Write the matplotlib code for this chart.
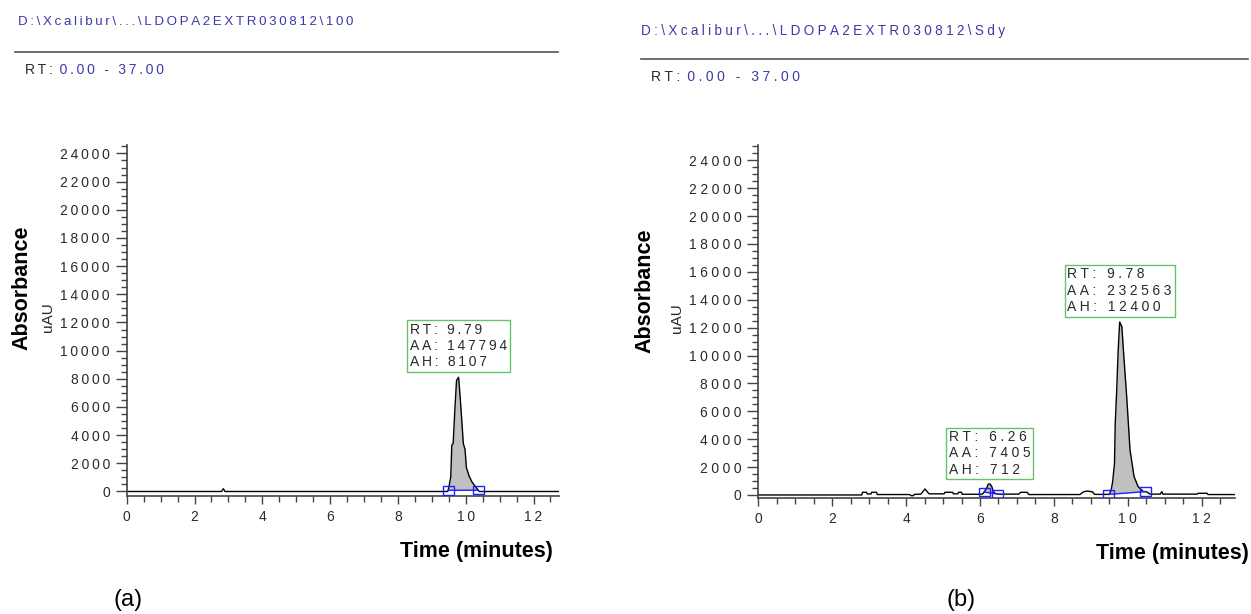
import matplotlib.pyplot as plt
import numpy as np
from matplotlib.lines import Line2D
from matplotlib.patches import Rectangle

plt.rcParams['font.family'] = ['Liberation Sans', 'DejaVu Sans']

W, H = 1251, 614

# chromatogram (a): sample 100
a_time = [0, 2.80, 2.85, 2.90, 9.47, 9.50, 9.56, 9.59, 9.63, 9.68, 9.73, 9.79,
          9.83, 9.88, 9.93, 9.98, 10.02, 10.10, 10.18, 10.30, 10.40, 12.76]
a_abs = [0, 0, 200, 0, 0, 250, 1060, 3300, 3400, 5800, 7900, 8107,
         6900, 5200, 3400, 3000, 1700, 1100, 700, 300, 0, 0]

# chromatogram (b): standard
b_time = [0, 2.80, 2.82, 2.93, 2.95, 3.05, 3.07, 3.20, 3.22, 4.10, 4.13, 4.20,
          4.22, 4.40, 4.51, 4.62, 5.03, 5.05, 5.26, 5.28, 5.40, 5.42, 5.50, 5.52,
          6.05, 6.09, 6.18, 6.22, 6.27, 6.32, 6.36, 6.41, 6.48, 7.05, 7.10, 7.28,
          7.32, 8.70, 8.80, 8.90, 9.05, 9.10, 9.50, 9.55, 9.59, 9.64, 9.66, 9.70,
          9.74, 9.78, 9.84, 9.88, 9.97, 10.06, 10.17, 10.28, 10.42, 10.50, 10.60,
          10.88, 10.92, 10.95, 11.88, 11.90, 12.15, 12.17, 12.90]
b_abs = [0, 0, 190, 190, 70, 70, 190, 190, 30, 30, -50, -50,
         40, 60, 430, 80, 80, 190, 190, 80, 80, 190, 190, 50,
         50, 130, 480, 765, 790, 600, 240, 120, 60, 60, 190, 190,
         30, 30, 220, 280, 220, 40, 40, 360, 950, 2270, 5140, 7530,
         10400, 12400, 12070, 10400, 7050, 3230, 1310, 600, 240, 240, 60,
         60, 240, 60, 60, 120, 120, 30, 30]

# integrated peaks
a_rt = [9.79]
a_aa = [147794]
a_ah = [8107]
a_start = [9.48]
a_end = [10.37]

b_rt = [6.26, 9.78]
b_aa = [7405, 232563]
b_ah = [712, 12400]
b_start = [6.11, 9.49]
b_end = [6.47, 10.47]

y_ticks = [0, 2000, 4000, 6000, 8000, 10000, 12000, 14000, 16000, 18000,
           20000, 22000, 24000]
x_ticks = [0, 2, 4, 6, 8, 10, 12]

BLUE = '#3a3aa8'
DARK = '#2a2a2a'


def spaced(s, gap):
    return gap.join(s)


def fx(x):
    return x / W


def fy(y):
    return 1 - y / H


def draw_panel(ax, time, absorb, rts, aas, ahs, starts, ends, xmax, ylim, gap):
    time = np.array(time, dtype=float)
    absorb = np.array(absorb, dtype=float)

    for rt, aa, ah, t0, t1 in zip(rts, aas, ahs, starts, ends):
        y0 = np.interp(t0, time, absorb)
        y1 = np.interp(t1, time, absorb)
        m = (time >= t0) & (time <= t1)
        tt = np.concatenate([[t0], time[m], [t1]])
        yy = np.concatenate([[y0], absorb[m], [y1]])
        base = np.interp(tt, [t0, t1], [y0, y1])
        ax.fill_between(tt, base, yy, color='#c0c0c0', lw=0, zorder=1)
        ax.plot([t0, t1], [y0, y1], color='#2020ff', lw=1, zorder=3)

        # boundary boxes, fixed size in pixels
        xpp = (ax.get_xlim()[1] - ax.get_xlim()[0]) / ax.bbox.width
        ypp = (ax.get_ylim()[1] - ax.get_ylim()[0]) / ax.bbox.height
        bw, bh = 11 * xpp, 8.5 * ypp
        for t, y in ((t0, y0), (t1, y1)):
            ax.add_patch(Rectangle((t - bw / 2, y - bh / 2), bw, bh, fill=False,
                                   ec='#2020ff', lw=1, zorder=4))

        label = '\n'.join([spaced('RT: %.2f' % rt, gap),
                           spaced('AA: %d' % aa, gap),
                           spaced('AH: %d' % ah, gap)])
        ax.annotate(label, xy=(rt, ah), xytext=(0, 6), textcoords='offset points',
                    ha='center', va='bottom', multialignment='left',
                    fontsize=10, color=DARK, linespacing=1.2, zorder=5,
                    bbox=dict(boxstyle='square,pad=0.2', fc='white',
                              ec='#66c266', lw=1))

    ax.plot(time, absorb, color='black', lw=1, zorder=2)

    ax.set_xticks(x_ticks)
    ax.set_xticklabels([spaced(str(v), gap) for v in x_ticks])
    ax.set_xticks(np.arange(0, xmax, 0.5), minor=True)
    ax.set_yticks(y_ticks)
    ax.set_yticklabels([spaced(str(v), gap) for v in y_ticks])
    ax.set_yticks(np.arange(0, ylim[1], 500), minor=True)

    ax.tick_params(axis='both', which='both', direction='out', color='#444',
                   width=1, labelsize=10, labelcolor=DARK, pad=4)
    ax.tick_params(axis='y', which='major', length=8)
    ax.tick_params(axis='y', which='minor', length=4)
    ax.tick_params(axis='x', which='major', length=6)
    ax.tick_params(axis='x', which='minor', length=4.5)

    for side in ('top', 'right'):
        ax.spines[side].set_visible(False)
    for side in ('left', 'bottom'):
        ax.spines[side].set_color('#444')
        ax.spines[side].set_linewidth(1.2)


fig = plt.figure(figsize=(W / 100, H / 100), dpi=100)

ax_a = fig.add_axes([fx(126.7), fy(496), fx(12.76 * 33.9), 351 / H])
ax_a.set_xlim(0, 12.76)
ax_a.set_ylim(-320, 24600)
ax_b = fig.add_axes([fx(758.3), fy(498.3), fx(12.9 * 36.95), 353.3 / H])
ax_b.set_xlim(0, 12.9)
ax_b.set_ylim(-240, 25100)

draw_panel(ax_a, a_time, a_abs, a_rt, a_aa, a_ah, a_start, a_end,
           12.76, (-320, 24600), '\u2009')
draw_panel(ax_b, b_time, b_abs, b_rt, b_aa, b_ah, b_start, b_end,
           12.9, (-240, 25100), '\u2005')

# headers
for x, y, name, gap, size, lx0, lx1, ly, rx, ry in (
        (18, 22, 'D:\\Xcalibur\\...\\LDOPA2EXTR030812\\100', '\u2009', 9.6,
         15, 558, 52, 25, 70),
        (641, 31, 'D:\\Xcalibur\\...\\LDOPA2EXTR030812\\Sdy', '\u2005', 9.75,
         641, 1248, 59, 651, 77)):
    fig.text(fx(x), fy(y), spaced(name, gap), color=BLUE, fontsize=size,
             ha='left', va='center')
    fig.add_artist(Line2D([fx(lx0), fx(lx1)], [fy(ly), fy(ly)], color='#555',
                          lw=1.2, transform=fig.transFigure))
    rt = fig.text(fx(rx), fy(ry), spaced('RT:', gap), color=DARK, fontsize=10,
                  ha='left', va='center')
    ax_a.annotate(spaced(' 0.00 - 37.00', gap), xy=(1, 0), xycoords=rt,
                  ha='left', va='bottom', color=BLUE, fontsize=10,
                  annotation_clip=False)

# axis titles
for x, y in ((22, 288), (645, 291)):
    fig.text(fx(x), fy(y), 'Absorbance', rotation=90, fontsize=15.5,
             fontweight='bold', ha='center', va='center', color='black')
for x, y in ((48, 317), (677, 318)):
    fig.text(fx(x), fy(y), 'uAU', rotation=90, fontsize=11, ha='center',
             va='center', color=DARK)
for x, y in ((476, 551), (1172, 554)):
    fig.text(fx(x), fy(y), 'Time (minutes)', fontsize=15.5, fontweight='bold',
             ha='center', va='center', color='black')
for x, y, s in ((128, 600, '(a)'), (961, 600, '(b)')):
    fig.text(fx(x), fy(y), s, fontsize=17, ha='center', va='center',
             color='black')

fig.savefig('out.png', dpi=100)
